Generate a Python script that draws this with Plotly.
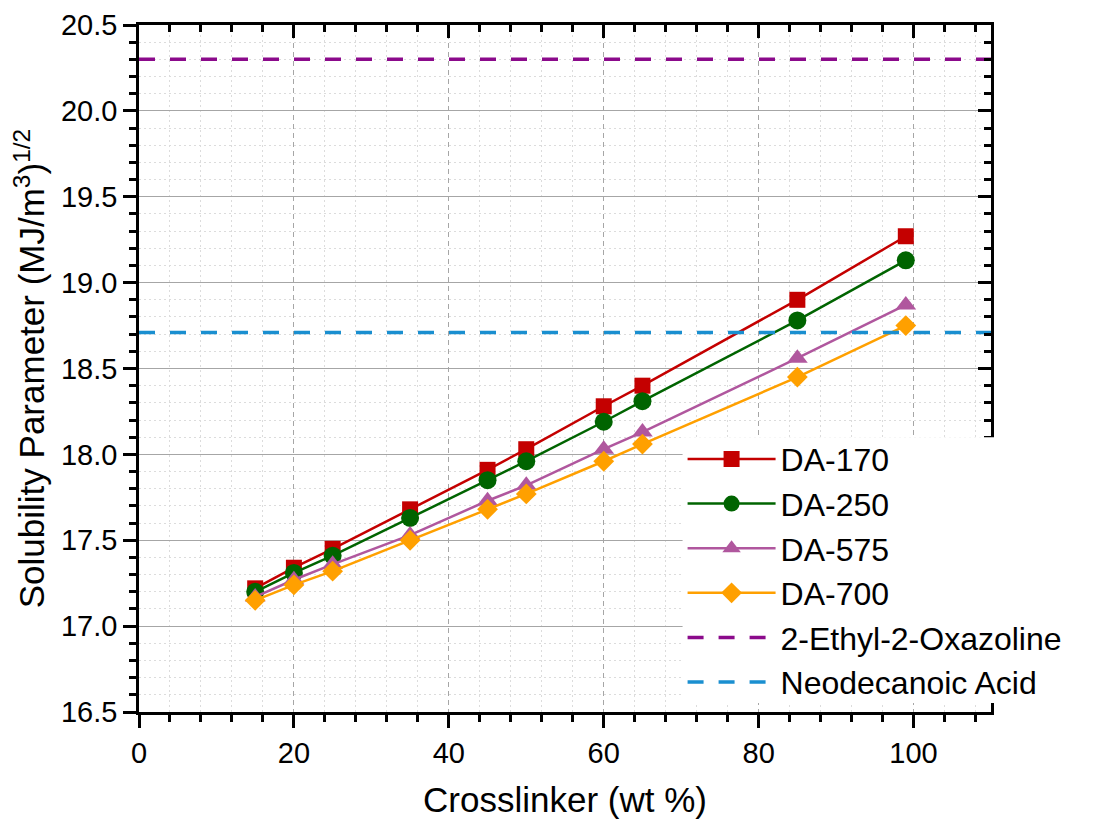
import plotly.graph_objects as go

crosslinker = [15, 20, 25, 35, 45, 50, 60, 65, 85, 99]
da170 = [17.22, 17.34, 17.45, 17.68, 17.91, 18.03, 18.28, 18.40, 18.90, 19.27]
da250 = [17.20, 17.31, 17.41, 17.63, 17.85, 17.96, 18.19, 18.31, 18.78, 19.13]
da575 = [17.17, 17.27, 17.36, 17.53, 17.73, 17.82, 18.03, 18.13, 18.56, 18.87]
da700 = [17.15, 17.24, 17.32, 17.50, 17.68, 17.77, 17.96, 18.06, 18.45, 18.75]
oxazoline = 20.3
neodecanoic = 18.71
x_range = [0, 110]
y_range = [16.5, 20.5]

series = [
    ("DA-170", da170, "#C40000", "square", 16),
    ("DA-250", da250, "#006400", "circle", 18),
    ("DA-575", da575, "#B0579E", "triangle-up", 18),
    ("DA-700", da700, "#FFA000", "diamond", 16),
]

fig = go.Figure()
for name, ys, color, sym, size in series:
    fig.add_trace(go.Scatter(
        x=crosslinker, y=ys, name=name, mode="lines+markers",
        line=dict(color=color, width=2.5),
        marker=dict(symbol=sym, size=size, color=color, line=dict(width=0)),
    ))

for name, val, color in [("2-Ethyl-2-Oxazoline", oxazoline, "#8B0A8B"),
                         ("Neodecanoic Acid", neodecanoic, "#1A8FD0")]:
    fig.add_trace(go.Scatter(
        x=x_range, y=[val, val], name=name, mode="lines",
        line=dict(color=color, width=3.5, dash="16px,15px"),
    ))

# invisible trace for mirrored axes
fig.add_trace(go.Scatter(x=x_range, y=y_range, xaxis="x2", yaxis="y2",
                         mode="markers", marker=dict(opacity=0),
                         showlegend=False, hoverinfo="skip"))

font = "Liberation Sans, Arial, sans-serif"
grid_major = "#A6A6A6"
grid_minor = "#DCDCDC"
fig.update_layout(
    width=1095, height=819,
    margin=dict(l=139, r=104, t=25, b=107, autoexpand=False),
    paper_bgcolor="white", plot_bgcolor="white",
    font=dict(family=font, color="black", size=29),
    showlegend=True,
    legend=dict(x=0.638, y=0.408, xanchor="left", yanchor="top",
                bgcolor="rgba(0,0,0,0)", borderwidth=0,
                font=dict(size=32, family=font),
                itemwidth=88, tracegroupgap=0),
    shapes=[dict(type="rect", xref="paper", yref="paper", layer="above",
                 x0=0.638, x1=1.01, y0=0.013, y1=0.40,
                 fillcolor="white", line=dict(width=0))],
    xaxis=dict(range=x_range, dtick=20, tick0=0, automargin=False,
               showline=True, linecolor="black", linewidth=2.5,
               ticks="outside", ticklen=13, tickwidth=2.5, tickcolor="black",
               tickfont=dict(size=29),
               showgrid=True, gridcolor=grid_major, gridwidth=1, griddash="5px,4px",
               zeroline=False,
               minor=dict(dtick=4, ticks="outside", ticklen=7, tickwidth=2.5,
                          tickcolor="black", showgrid=True,
                          gridcolor=grid_minor, griddash="2px,3px", gridwidth=1),
               title=dict(text="Crosslinker (wt %)", font=dict(size=35), standoff=22)),
    yaxis=dict(range=y_range, dtick=0.5, tick0=16.5, tickformat=".1f", automargin=False,
               showline=True, linecolor="black", linewidth=2.5,
               ticks="outside", ticklen=13, tickwidth=2.5, tickcolor="black",
               tickfont=dict(size=29),
               showgrid=True, gridcolor=grid_major, gridwidth=1,
               zeroline=False,
               minor=dict(dtick=0.1, ticks="outside", ticklen=7, tickwidth=2.5,
                          tickcolor="black", showgrid=True,
                          gridcolor=grid_minor, griddash="2px,3px", gridwidth=1),
               title=dict(text="Solubility Parameter (MJ/m<sup>3</sup>)<sup>1/2</sup>",
                          font=dict(size=35), standoff=6)),
    xaxis2=dict(range=x_range, overlaying="x", side="top", anchor="y", automargin=False,
                dtick=20, tick0=0, showticklabels=False,
                showline=True, linecolor="black", linewidth=2.5,
                ticks="inside", ticklen=13, tickwidth=2.5, tickcolor="black",
                showgrid=False, zeroline=False,
                minor=dict(dtick=4, ticks="inside", ticklen=7, tickwidth=2.5,
                           tickcolor="black", showgrid=False)),
    yaxis2=dict(range=y_range, overlaying="y", side="right", anchor="x", automargin=False,
                dtick=0.5, tick0=16.5, showticklabels=False,
                showline=True, linecolor="black", linewidth=2.5,
                ticks="inside", ticklen=13, tickwidth=2.5, tickcolor="black",
                showgrid=False, zeroline=False,
                minor=dict(dtick=0.1, ticks="inside", ticklen=7, tickwidth=2.5,
                           tickcolor="black", showgrid=False)),
)

fig.write_html("out.html")
